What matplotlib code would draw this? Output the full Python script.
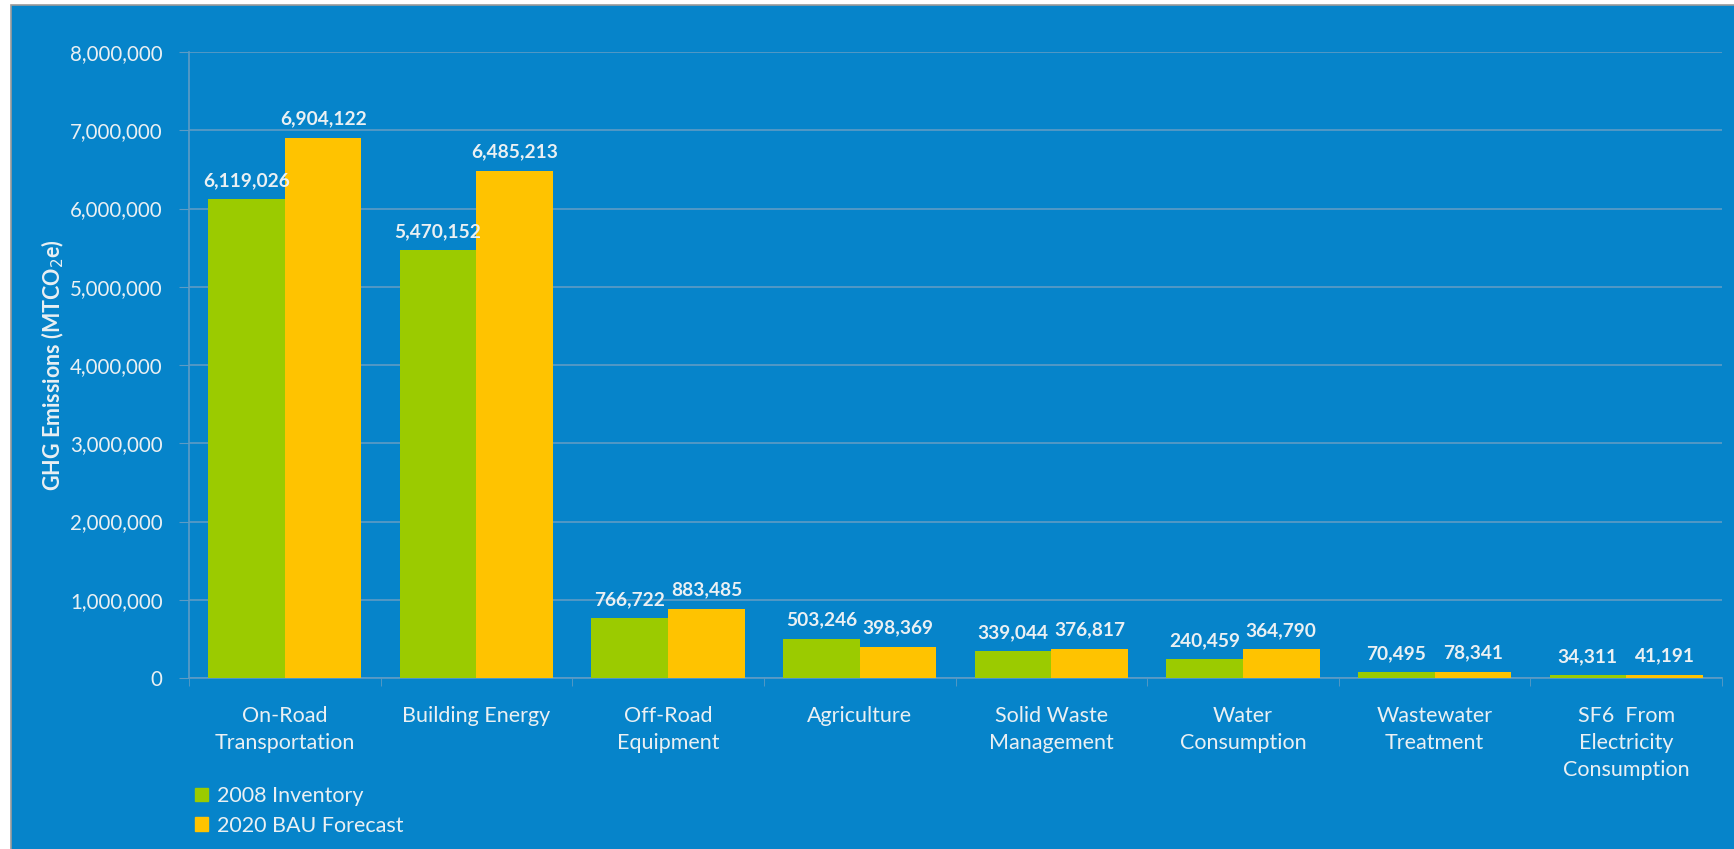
import matplotlib.pyplot as plt
from matplotlib.patches import Patch
import numpy as np

categories = ["On-Road\nTransportation", "Building Energy", "Off-Road\nEquipment",
              "Agriculture", "Solid Waste\nManagement", "Water\nConsumption",
              "Wastewater\nTreatment", "SF6  From\nElectricity\nConsumption"]
inventory_2008 = [6119026, 5470152, 766722, 503246, 339044, 240459, 70495, 34311]
forecast_2020 = [6904122, 6485213, 883485, 398369, 376817, 364790, 78341, 41191]
yticks = [0, 1000000, 2000000, 3000000, 4000000, 5000000, 6000000, 7000000, 8000000]

bg = "#0684CA"
green = "#9BCB00"
yellow = "#FFC300"
txt = "#EAF0F3"
grid = "#5E9BC4"

plt.rcParams['font.family'] = ['Lato', 'DejaVu Sans']

W, H = 1734, 849
fig = plt.figure(figsize=(W / 100, H / 100), dpi=100)
fig.patch.set_facecolor("white")
# blue panel behind the chart, running off the right and bottom edges
fig.patches.append(plt.Rectangle((11 / W, -0.01), 1.0, 1 - 5 / H + 0.01,
                                 transform=fig.transFigure, facecolor=bg,
                                 edgecolor="#9A9A9A", lw=1.2, zorder=-1))

ax = fig.add_axes([189 / W, 1 - 678 / H, (1722 - 189) / W, (678 - 52) / H])
ax.set_facecolor(bg)

x = np.arange(len(categories))
w = 0.4
b1 = ax.bar(x - w / 2, inventory_2008, w, color=green, zorder=3)
b2 = ax.bar(x + w / 2, forecast_2020, w, color=yellow, zorder=3)

for bars, vals in ((b1, inventory_2008), (b2, forecast_2020)):
    for r, v in zip(bars, vals):
        ax.text(r.get_x() + r.get_width() / 2, v + 130000, f"{v:,}",
                ha="center", va="bottom", color=txt, fontsize=13.8, fontweight="bold")

ax.set_xlim(-0.5, len(categories) - 0.5)
ax.set_ylim(0, 8000000)
ax.set_yticks(yticks)
ax.set_yticklabels([f"{v:,}" for v in yticks], color=txt, fontsize=14.8)
ax.yaxis.grid(True, color=grid, lw=1.2, zorder=0)
ax.tick_params(axis="y", length=7, color=grid, pad=12)

ax.set_xticks(x)
ax.set_xticklabels(categories, color=txt, fontsize=15.5, linespacing=1.45)
ax.tick_params(axis="x", length=0, pad=20)
ax.set_xticks(np.arange(len(categories) + 1) - 0.5, minor=True)
ax.tick_params(axis="x", which="minor", length=6, color=grid)

for s in ["top", "right"]:
    ax.spines[s].set_visible(False)
for s in ["bottom", "left"]:
    ax.spines[s].set_color(grid)
    ax.spines[s].set_linewidth(1.2)

ax.set_ylabel("GHG Emissions (MTCO$_2$e)", color=txt, fontsize=15.5,
              fontweight="bold")
ax.yaxis.set_label_coords(-(189 - 66) / (1722 - 189), 0.5)

handles = [Patch(color=green, label="2008 Inventory"),
           Patch(color=yellow, label="2020 BAU Forecast")]
leg = fig.legend(handles=handles, loc="center left",
                 bbox_to_anchor=(176 / W, 1 - 811 / H), frameon=False,
                 fontsize=15.5, handlelength=0.6, handleheight=0.6,
                 handletextpad=0.4, labelspacing=0.45)
for t in leg.get_texts():
    t.set_color(txt)

fig.savefig("out.png", dpi=100)
